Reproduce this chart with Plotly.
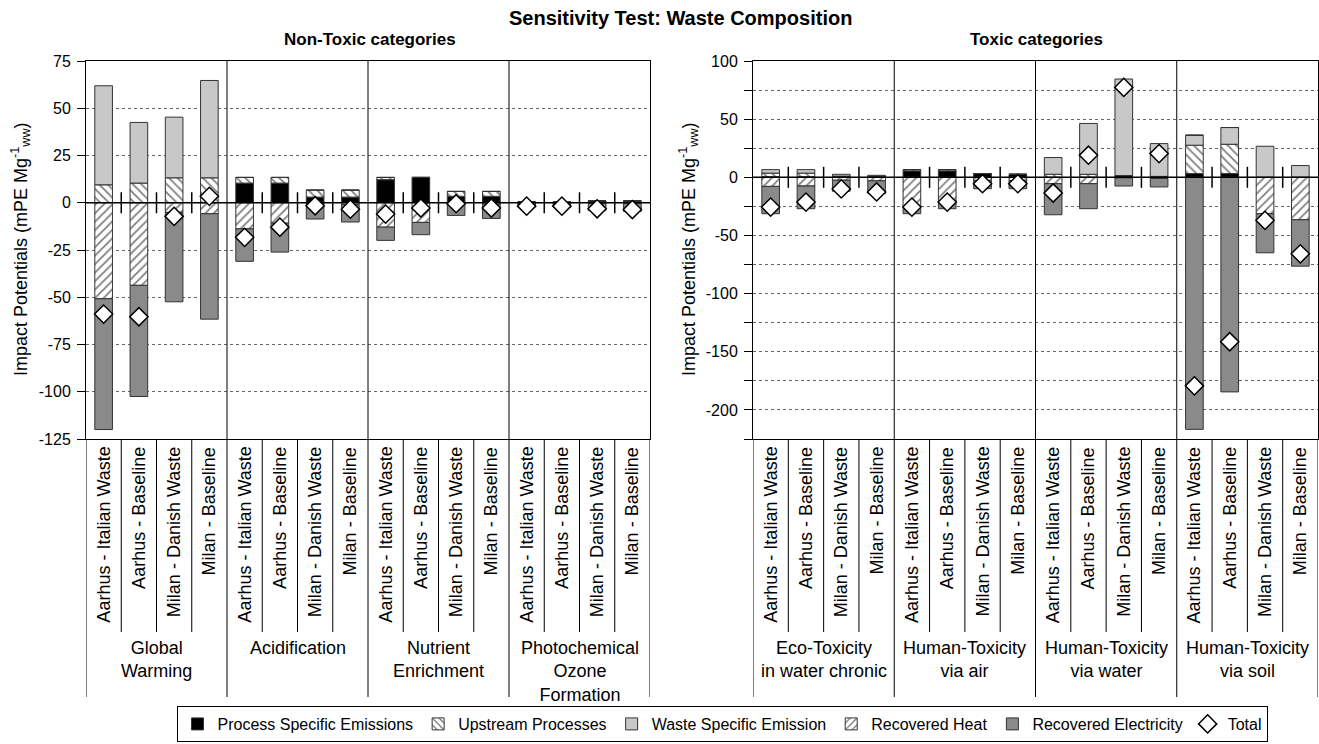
import plotly.graph_objects as go

FONT = "Liberation Sans, Arial, sans-serif"

bar_names = ["Aarhus - Italian Waste", "Aarhus - Baseline", "Milan - Danish Waste", "Milan - Baseline"]
groups_nt = ["Global<br>Warming", "Acidification", "Nutrient<br>Enrichment", "Photochemical<br>Ozone<br>Formation"]
groups_t = ["Eco-Toxicity<br>in water chronic", "Human-Toxicity<br>via air", "Human-Toxicity<br>via water", "Human-Toxicity<br>via soil"]

series_names = ["Process Specific Emissions", "Upstream Processes", "Waste Specific Emission",
                "Recovered Heat", "Recovered Electricity"]

# Non-toxic categories (mPE/Mg ww), 4 groups x 4 scenarios
process_nt = [0, 0, 0, 0, 10.4, 10.4, 3.0, 3.0, 12.2, 13.4, 3.4, 3.4, 0.3, 0.3, 1.0, 1.0]
upstream_nt = [9.5, 10.4, 13.2, 13.2, 3.0, 3.0, 3.7, 3.7, 1.2, 0, 2.6, 2.6, 0.2, 0.2, 0, 0]
waste_nt = [52.4, 32.1, 32.1, 51.5, 0, 0, 0, 0, 0, 0, 0, 0, 0, 0, 0, 0]
heat_nt = [-50.8, -43.7, -5.1, -5.8, -13.8, -10.8, -0.8, -1.0, -12.9, -10.4, -0.5, -0.7, -0.7, -0.7, -0.3, -0.3]
elec_nt = [-69.2, -58.8, -47.3, -55.8, -17.2, -15.3, -7.8, -9.2, -7.0, -6.5, -6.2, -7.6, -1.5, -1.5, -3.8, -4.3]
total_nt = [-58.9, -60.3, -7.2, 3.4, -18.3, -12.9, -1.6, -3.4, -6.0, -2.8, -0.5, -2.8, -1.8, -1.8, -3.2, -3.6]

# Toxic categories
process_t = [0.5, 0.5, 1.0, 0.8, 5.5, 5.5, 3.2, 2.6, 0, 0, 1.5, 0.8, 3.2, 3.2, 0, 0]
upstream_t = [3.1, 3.1, 0, 0, 1.1, 1.1, 0, 0, 2.6, 2.6, 0, 0, 24.4, 25.2, 0, 0]
waste_t = [3.0, 3.0, 1.6, 0.9, 0, 0, 0, 0, 14.4, 43.7, 83.0, 28.2, 8.6, 14.4, 26.7, 10.1]
heat_t = [-7.8, -7.5, -2.5, -3.0, -25.6, -21.3, -3.0, -3.0, -5.5, -5.5, -0.5, -1.0, 0, 0, -31.3, -36.5]
elec_t = [-23.5, -19.5, -9.5, -11.0, -5.7, -5.7, -6.8, -6.8, -26.7, -21.5, -7.0, -7.3, -216.7, -184.5, -33.6, -39.9]
total_t = [-25.6, -21.3, -10.0, -12.6, -25.6, -21.3, -5.5, -5.5, -13.5, 19.0, 77.3, 20.4, -179.3, -141.4, -37.0, -65.8]

# axis tick values / labels
yticks_nt = [75, 50, 25, 0, -25, -50, -75, -100, -125]
yticks_t = [100, 50, 0, -50, -100, -150, -200]
yminor_t = [75, 25, -25, -75, -125, -175, -225]

styles = [
    dict(color="#000000"),
    dict(color="white", pattern=dict(shape="\\", fgcolor="#000000", bgcolor="white", size=6, solidity=0.3)),
    dict(color="#c8c8c8"),
    dict(color="white", pattern=dict(shape="/", fgcolor="#000000", bgcolor="white", size=6, solidity=0.3)),
    dict(color="#8a8a8a"),
]

n = len(bar_names) * len(groups_nt)
xs = list(range(n))

fig = go.Figure()


def add_panel(series, totals, xa, ya, show):
    for name, vals, st in zip(series_names, series, styles):
        fig.add_trace(go.Bar(
            x=xs, y=vals, name=name, legendgroup=name, showlegend=show,
            width=0.5, xaxis=xa, yaxis=ya,
            marker=dict(line=dict(color="#333333", width=1), **st),
            hoverinfo="skip"))
    # zero line (axis crossing)
    fig.add_trace(go.Scatter(x=[-0.5, n - 0.5], y=[0, 0], mode="lines", xaxis=xa, yaxis=ya,
                             line=dict(color="black", width=1.5), showlegend=False, hoverinfo="skip"))
    # short category ticks on zero line between bars inside each group
    tx = [i + 0.5 for i in range(n - 1) if (i + 1) % 4 != 0]
    fig.add_trace(go.Scatter(x=tx, y=[0] * len(tx), mode="markers", xaxis=xa, yaxis=ya,
                             marker=dict(symbol="line-ns", size=15, line=dict(color="black", width=1.5)),
                             showlegend=False, hoverinfo="skip"))
    fig.add_trace(go.Scatter(x=xs, y=totals, mode="markers", name="Total", legendgroup="Total",
                             showlegend=show, xaxis=xa, yaxis=ya,
                             marker=dict(symbol="diamond", size=14, color="white",
                                         line=dict(color="black", width=1.5)),
                             hoverinfo="skip"))


add_panel([process_nt, upstream_nt, waste_nt, heat_nt, elec_nt], total_nt, "x", "y", True)
add_panel([process_t, upstream_t, waste_t, heat_t, elec_t], total_t, "x2", "y2", False)

W, H = 1319, 744
ML, MR, MT, MB = 86, 1, 61, 305
pw = W - ML - MR
ph = H - MT - MB


def px_x(p):
    return (p - ML) / pw


def px_y(p):
    return (H - MB - p) / ph


def lbl(v):
    return str(v)  # plain hyphen-minus as in the reference


xcommon = dict(range=[-0.5, n - 0.5], showticklabels=False, showgrid=False, zeroline=False,
               showline=True, linecolor="black", linewidth=1, mirror=True, ticks="")
ycommon = dict(showline=True, linecolor="black", linewidth=1, mirror=True, ticks="outside",
               ticklen=8, tickcolor="black", tickwidth=1, zeroline=False, ticklabelstandoff=3,
               showgrid=True, gridcolor="#666666", griddash="dot", gridwidth=1,
               tickfont=dict(family=FONT, size=16, color="black"))

fig.update_layout(
    width=W, height=H, autosize=False,
    margin=dict(l=ML, r=MR, t=MT, b=MB),
    paper_bgcolor="white", plot_bgcolor="white",
    barmode="relative", hovermode=False,
    font=dict(family=FONT, size=16, color="black"),
    xaxis=dict(domain=[0, px_x(650)], anchor="y", **xcommon),
    xaxis2=dict(domain=[px_x(753), 1], anchor="y2", **xcommon),
    yaxis=dict(range=[-125, 75], tickvals=yticks_nt, ticktext=[lbl(v) for v in yticks_nt],
               anchor="x", **ycommon),
    yaxis2=dict(range=[-225, 100], tickvals=yticks_t, ticktext=[lbl(v) for v in yticks_t], anchor="x2",
                minor=dict(tickvals=yminor_t, ticks="outside", ticklen=8,
                           tickcolor="black", showgrid=True, gridcolor="#666666", griddash="dot"),
                **ycommon),
    legend=dict(orientation="h", x=px_x(722), xanchor="center", y=px_y(706), yanchor="top",
                bordercolor="black", borderwidth=1, font=dict(family=FONT, size=16, color="black"),
                traceorder="normal", itemwidth=30, tracegroupgap=0),
)

ann = []
shapes = []
ann.append(dict(text="<b>Sensitivity Test: Waste Composition</b>", x=px_x(680), y=px_y(18),
                xref="paper", yref="paper", xanchor="center", yanchor="middle",
                showarrow=False, font=dict(size=20)))
ann.append(dict(text="<b>Non-Toxic categories</b>", x=px_x(370), y=px_y(40),
                xref="paper", yref="paper", xanchor="center", yanchor="middle",
                showarrow=False, font=dict(size=17)))
ann.append(dict(text="<b>Toxic categories</b>", x=px_x(1036), y=px_y(40),
                xref="paper", yref="paper", xanchor="center", yanchor="middle",
                showarrow=False, font=dict(size=17)))
ytitle = "Impact Potentials (mPE Mg<sup>-1</sup><sub>ww</sub>)"
for xp in (20, 688):
    ann.append(dict(text=ytitle, x=px_x(xp), y=0.5, xref="paper", yref="paper", textangle=-90,
                    xanchor="center", yanchor="middle", showarrow=False, font=dict(size=18)))

for xa, groups in (("x", groups_nt), ("x2", groups_t)):
    for i in xs:
        ann.append(dict(text=bar_names[i % 4], x=i, y=px_y(445), xref=xa, yref="paper",
                        textangle=-90, xanchor="center", yanchor="top", showarrow=False,
                        font=dict(size=18)))
    for g, gname in enumerate(groups):
        ann.append(dict(text=gname, x=4 * g + 1.5, y=px_y(636), xref=xa, yref="paper",
                        xanchor="center", yanchor="top", showarrow=False, font=dict(size=18)))
    # group dividers inside plot
    for g in range(1, 4):
        shapes.append(dict(type="line", xref=xa, yref="paper", x0=4 * g - 0.5, x1=4 * g - 0.5,
                           y0=0, y1=1, line=dict(color="black", width=1)))
    # separators below axis
    for b in range(n + 1):
        xb = b - 0.5
        yend = px_y(697) if b % 4 == 0 else px_y(632)
        shapes.append(dict(type="line", xref=xa, yref="paper", x0=xb, x1=xb, y0=0, y1=yend,
                           line=dict(color="black", width=1)))

fig.update_layout(annotations=ann, shapes=shapes)

fig.write_html("out.html", config={"displayModeBar": False},
               post_script="document.body.style.margin='0';document.body.style.overflow='hidden';")
